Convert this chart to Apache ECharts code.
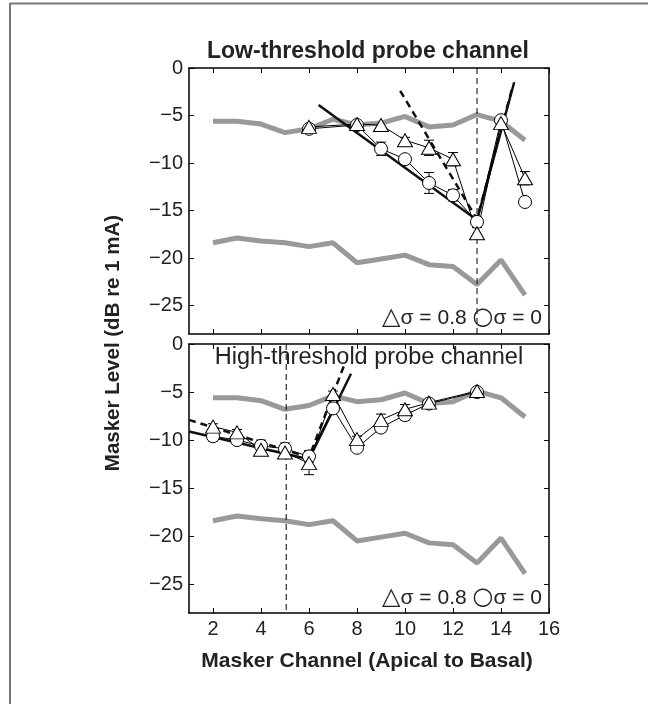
<!DOCTYPE html>
<html>
<head>
<meta charset="utf-8">
<script src="https://cdn.jsdelivr.net/npm/echarts@6/dist/echarts.min.js"></script>
<style>
  html, body { margin: 0; padding: 0; background: #fff; }
  #chart { width: 648px; height: 704px; }
</style>
</head>
<body>
<div id="chart"></div>
<script>
// masker channels for the grey reference curves
const channels = [2, 3, 4, 5, 6, 7, 8, 9, 10, 11, 12, 13, 14, 15]
const grayUpper = [-5.6, -5.6, -5.9, -6.8, -6.4, -5.4, -6.0, -5.8, -5.1, -6.2, -6.0, -4.9, -5.6, -7.6]
const grayLower = [-18.4, -17.9, -18.2, -18.4, -18.8, -18.4, -20.5, -20.1, -19.7, -20.7, -20.9, -22.8, -20.2, -23.9]

// low-threshold probe channel (top panel)
const lowCh = [6, 8, 9, 10, 11, 12, 13, 14, 15]
const lowTri = [-6.2, -5.9, -6.0, -7.6, -8.4, -9.6, -17.4, -5.8, -11.6]
const lowTriErr = [0, 0, 0, 0.3, 0.8, 0.7, 0.6, 0, 0.7]
const lowCirc = [-6.4, -6.0, -8.5, -9.6, -12.1, -13.4, -16.2, -5.5, -14.1]
const lowCircErr = [0, 0, 0.7, 0, 1.1, 0.6, 0.5, 0, 0]
const lowFitSolid = [[6.4, -3.9], [13, -16.0], [14.55, -1.5]]
const lowFitDashed = [[9.8, -2.4], [13, -15.9], [14.5, -1.8]]
const lowProbe = 13

// high-threshold probe channel (bottom panel)
const highCh = [2, 3, 4, 5, 6, 7, 8, 9, 10, 11, 13]
const highTri = [-8.6, -9.2, -11.0, -11.3, -12.4, -5.2, -9.9, -7.9, -6.8, -6.1, -4.9]
const highTriErr = [0.3, 0.3, 0.6, 0.5, 1.2, 0.3, 0.3, 0.6, 0.5, 0.2, 0.2]
const highCirc = [-9.6, -10.0, -10.6, -10.9, -11.7, -6.7, -10.8, -8.7, -7.4, -6.2, -5.0]
const highCircErr = [0.5, 0.4, 0.6, 0.6, 0.6, 0, 0, 0.5, 0.5, 0, 0]
const highFitSolid = [[1, -9.1], [6, -12.0], [7.75, -3.1]]
const highFitDashed = [[1, -7.9], [6, -11.8], [7.45, -2.3]]
const highProbe = 5.05

const xTicks = [2, 4, 6, 8, 10, 12, 14, 16]
const yTicks = [-25, -20, -15, -10, -5, 0]

const FONT = 'Liberation Sans, Arial, sans-serif'

function pts(xs, ys) {
  return xs.map((x, i) => [x, ys[i]])
}
function errs(xs, ys, es) {
  return xs.map((x, i) => [x, ys[i] - es[i], ys[i] + es[i]]).filter(d => d[2] > d[1])
}

function xAxisOf(grid, pos, labels) {
  return {
    type: 'value', gridIndex: grid, position: pos, min: 1, max: 16,
    splitLine: { show: false },
    axisLine: { show: true, onZero: false, lineStyle: { color: '#000', width: 1.5 } },
    axisTick: { show: true, inside: true, length: 5, customValues: xTicks, lineStyle: { color: '#000' } },
    axisLabel: {
      show: labels, customValues: xTicks, margin: 6,
      color: '#222', fontFamily: FONT, fontSize: 20
    }
  }
}
function yAxisOf(grid, pos, labels) {
  return {
    type: 'value', gridIndex: grid, position: pos, min: -28, max: 0,
    splitLine: { show: false },
    axisLine: { show: true, onZero: false, lineStyle: { color: '#000', width: 1.5 } },
    axisTick: { show: true, inside: true, length: 5, customValues: yTicks, lineStyle: { color: '#000' } },
    axisLabel: {
      show: labels, customValues: yTicks, margin: 6,
      color: '#222', fontFamily: FONT, fontSize: 20,
      formatter: v => String(v).replace('-', '\u2212')
    }
  }
}

function errorBars(data, xi, yi) {
  return {
    type: 'custom', xAxisIndex: xi, yAxisIndex: yi, z: 3,
    encode: { x: 0, y: [1, 2] },
    data: data,
    renderItem: (params, api) => {
      const top = api.coord([api.value(0), api.value(2)])
      const bot = api.coord([api.value(0), api.value(1)])
      const w = 5
      const st = { stroke: '#000', lineWidth: 1 }
      return {
        type: 'group',
        children: [
          { type: 'line', shape: { x1: top[0], y1: top[1], x2: bot[0], y2: bot[1] }, style: st },
          { type: 'line', shape: { x1: top[0] - w, y1: top[1], x2: top[0] + w, y2: top[1] }, style: st },
          { type: 'line', shape: { x1: bot[0] - w, y1: bot[1], x2: bot[0] + w, y2: bot[1] }, style: st }
        ]
      }
    }
  }
}

function grayLine(ys, xi, yi) {
  return {
    type: 'line', xAxisIndex: xi, yAxisIndex: yi, z: 1,
    data: pts(channels, ys), symbol: 'none',
    lineStyle: { color: '#999', width: 5 }
  }
}

function markerLine(xs, ys, symbol, size, xi, yi) {
  return {
    type: 'line', xAxisIndex: xi, yAxisIndex: yi, z: 5,
    data: pts(xs, ys), symbol: symbol, symbolSize: size, showSymbol: true,
    itemStyle: { color: '#fff', borderColor: '#000', borderWidth: 1 },
    lineStyle: { color: '#000', width: 1 }
  }
}

function fitLine(data, dashed, xi, yi) {
  return {
    type: 'line', xAxisIndex: xi, yAxisIndex: yi, z: 4,
    data: data, symbol: 'none',
    lineStyle: { color: '#111', width: 2.5, type: dashed ? [7, 5] : 'solid' }
  }
}

function probeLine(x, xi, yi) {
  return {
    type: 'line', xAxisIndex: xi, yAxisIndex: yi, z: 2,
    data: [[x, 0], [x, -28]], symbol: 'none',
    lineStyle: { color: '#000', width: 1, type: [6, 4] }
  }
}

function panel(xi, yi, ch, tri, triErr, circ, circErr, fitS, fitD, probe) {
  return [
    grayLine(grayUpper, xi, yi),
    grayLine(grayLower, xi, yi),
    probeLine(probe, xi, yi),
    fitLine(fitS, false, xi, yi),
    fitLine(fitD, true, xi, yi),
    errorBars(errs(ch, circ, circErr), xi, yi),
    errorBars(errs(ch, tri, triErr), xi, yi),
    markerLine(ch, circ, 'circle', 13, xi, yi),
    markerLine(ch, tri, 'triangle', [15, 13], xi, yi)
  ]
}

const legendText = {
  text: '{sym|\u25b3}\u03c3 = 0.8 {sym|\u25cb}\u03c3 = 0',
  font: '21px ' + FONT, fill: '#222', align: 'right', verticalAlign: 'middle',
  rich: { sym: { fontFamily: 'DejaVu Sans', fontSize: 24, fill: '#222' } }
}

const chart = echarts.init(document.getElementById('chart'))
chart.setOption({
  animation: false,
  backgroundColor: '#fff',
  grid: [
    { left: 189, top: 68, width: 360, height: 266 },
    { left: 189, top: 344, width: 360, height: 269 }
  ],
  xAxis: [
    xAxisOf(0, 'bottom', false),
    xAxisOf(0, 'top', false),
    xAxisOf(1, 'bottom', true),
    xAxisOf(1, 'top', false)
  ],
  yAxis: [
    yAxisOf(0, 'left', true),
    yAxisOf(0, 'right', false),
    yAxisOf(1, 'left', true),
    yAxisOf(1, 'right', false)
  ],
  series: [
    ...panel(0, 0, lowCh, lowTri, lowTriErr, lowCirc, lowCircErr, lowFitSolid, lowFitDashed, lowProbe),
    ...panel(2, 2, highCh, highTri, highTriErr, highCirc, highCircErr, highFitSolid, highFitDashed, highProbe)
  ],
  graphic: [
    // outer frame (left and top only)
    { type: 'line', shape: { x1: 10, y1: 3, x2: 10, y2: 704 }, style: { stroke: '#777', lineWidth: 2 } },
    { type: 'line', shape: { x1: 10, y1: 3.5, x2: 648, y2: 3.5 }, style: { stroke: '#777', lineWidth: 2 } },
    {
      type: 'text', x: 368, y: 52, z: 10,
      style: { text: 'Low-threshold probe channel', font: 'bold 23px ' + FONT, fill: '#222', align: 'center', verticalAlign: 'middle' }
    },
    {
      type: 'text', x: 369, y: 358, z: 10,
      style: { text: 'High-threshold probe channel', font: '23.5px ' + FONT, fill: '#222', align: 'center', verticalAlign: 'middle' }
    },
    { type: 'text', x: 542, y: 318, z: 10, style: legendText },
    { type: 'text', x: 542, y: 598, z: 10, style: legendText },
    {
      type: 'text', x: 367, y: 661, z: 10,
      style: { text: 'Masker Channel (Apical to Basal)', font: 'bold 21px ' + FONT, fill: '#222', align: 'center', verticalAlign: 'middle' }
    },
    {
      type: 'text', x: 113, y: 343, rotation: Math.PI / 2, z: 10,
      style: { text: 'Masker Level (dB re 1 mA)', font: 'bold 20.5px ' + FONT, fill: '#222', align: 'center', verticalAlign: 'middle' }
    }
  ]
})
</script>
</body>
</html>
